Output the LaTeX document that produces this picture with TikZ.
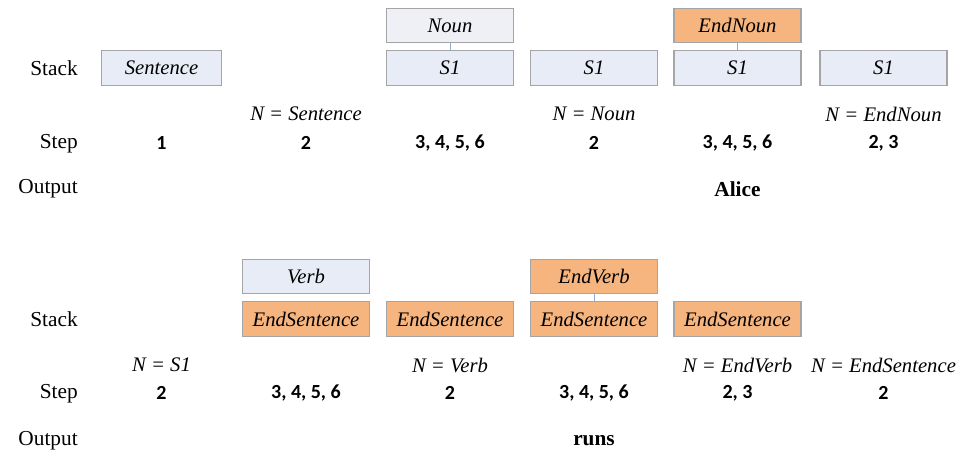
\documentclass[tikz,border=0pt]{standalone}
\usepackage{fontspec}
\setmainfont{Liberation Serif}
\newfontfamily\numfont{Carlito}
\usetikzlibrary{shapes}

\definecolor{boxblue}{RGB}{231,236,246}
\definecolor{boxgrey}{RGB}{238,240,245}
\definecolor{boxorange}{RGB}{246,180,127}
\definecolor{boxline}{RGB}{165,165,165}
\definecolor{linkblue}{RGB}{143,170,220}

\tikzset{
  stk/.style={draw=boxline, line width=0.8pt, minimum width=95.25pt, minimum height=26pt, inner sep=0pt, font=\fontsize{15.5}{18}\selectfont\itshape},
  stkblue/.style={stk, fill=boxblue},
  stkgrey/.style={stk, fill=boxgrey},
  stkorange/.style={stk, fill=boxorange},
  rowlabel/.style={anchor=east, inner sep=0.75pt, font=\fontsize{16}{19}\selectfont},
  stepnum/.style={inner sep=0.75pt, font=\fontsize{15}{18}\selectfont\numfont\bfseries},
  nlabel/.style={inner sep=0.75pt, font=\fontsize{15.5}{18}\selectfont\itshape},
  outword/.style={inner sep=0.75pt, font=\fontsize{16}{19}\selectfont\bfseries},
  link/.style={draw=linkblue, line width=0.6pt}
}

\begin{document}
\begin{tikzpicture}[x=0.75pt,y=0.75pt,yscale=-1,xscale=1]
\useasboundingbox (0,0) rectangle (960,454);

% first row
\node [rowlabel] (stackA) at (79,68) {Stack};
\node [rowlabel] (stepA) at (79,144) {Step};
\node [rowlabel] (outA) at (79,189) {Output};

\node [stkblue, minimum width=90pt] (sentence) at (161.5,68) {Sentence};
\node [stkgrey] (noun) at (450,25.5) {Noun};
\node [stkblue] (sA) at (450,68) {S1};
\node [stkblue] (sB) at (594,68) {S1};
\node [stkorange] (endnoun) at (737.5,25.5) {EndNoun};
\node [stkblue] (sC) at (737.5,68) {S1};
\node [stkblue] (sD) at (883.5,68) {S1};
\draw [link] (noun) -- (sA);
\draw [link] (endnoun) -- (sC);

\node [nlabel] (nA) at (306,114) {\textit{N} = \textit{Sentence}};
\node [nlabel] (nB) at (594,114) {\textit{N} = \textit{Noun}};
\node [nlabel] (nC) at (883.5,114) {\textit{N} = \textit{EndNoun}};

\node [stepnum] (stA1) at (161.5,143) {1};
\node [stepnum] (stA2) at (306,143) {2};
\node [stepnum] (stA3) at (450,143) {3, 4, 5, 6};
\node [stepnum] (stA4) at (594,143) {2};
\node [stepnum] (stA5) at (737.5,143) {3, 4, 5, 6};
\node [stepnum] (stA6) at (883.5,143) {2, 3};

\node [outword] (alice) at (737.5,189) {Alice};

% second row
\node [rowlabel] (stackB) at (79,319) {Stack};
\node [rowlabel] (stepB) at (79,394) {Step};
\node [rowlabel] (outB) at (79,441) {Output};

\node [stkblue] (verb) at (306,276.5) {Verb};
\node [stkorange] (endsA) at (306,319) {EndSentence};
\node [stkorange] (endsB) at (450,319) {EndSentence};
\node [stkorange] (endverb) at (594,276.5) {EndVerb};
\node [stkorange] (endsC) at (594,319) {EndSentence};
\node [stkorange] (endsD) at (737.5,319) {EndSentence};
\draw [link] (endverb) -- (endsC);

\node [nlabel] (nD) at (161.5,365) {\textit{N} = \textit{S1}};
\node [nlabel] (nE) at (450,365) {\textit{N} = \textit{Verb}};
\node [nlabel] (nF) at (737.5,365) {\textit{N} = \textit{EndVerb}};
\node [nlabel] (nG) at (883.5,365) {\textit{N} = \textit{EndSentence}};

\node [stepnum] (stB1) at (161.5,393) {2};
\node [stepnum] (stB2) at (306,393) {3, 4, 5, 6};
\node [stepnum] (stB3) at (450,393) {2};
\node [stepnum] (stB4) at (594,393) {3, 4, 5, 6};
\node [stepnum] (stB5) at (737.5,393) {2, 3};
\node [stepnum] (stB6) at (883.5,393) {2};

\node [outword] (runs) at (594,441) {runs};
\end{tikzpicture}
\end{document}
